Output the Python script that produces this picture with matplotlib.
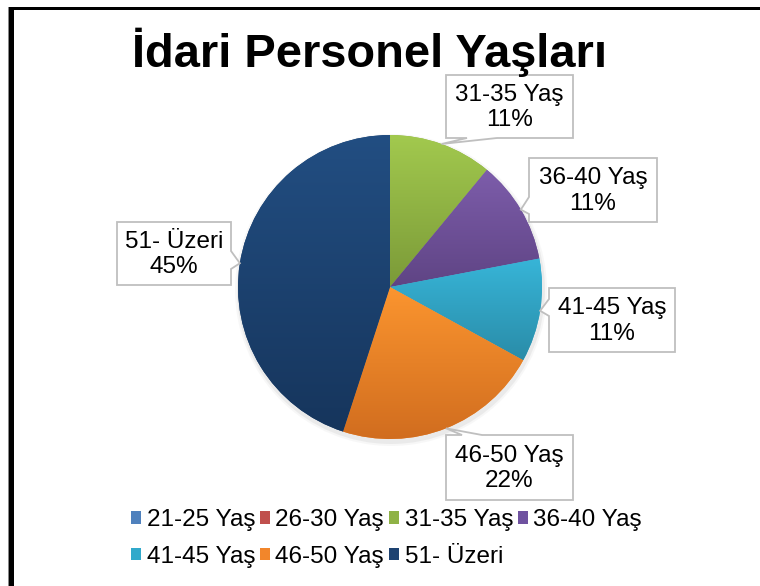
import numpy as np
import matplotlib
matplotlib.use('Agg')
import matplotlib.pyplot as plt
from matplotlib.patches import Patch, Polygon, Rectangle, Circle
from matplotlib.colors import LinearSegmentedColormap

plt.rcParams['font.family'] = ['Liberation Sans', 'DejaVu Sans']

title = 'İdari Personel Yaşları'
categories = ['21-25 Yaş', '26-30 Yaş', '31-35 Yaş', '36-40 Yaş',
              '41-45 Yaş', '46-50 Yaş', '51- Üzeri']
percents = [0, 0, 11, 11, 11, 22, 45]

# flat colours for legend, (light, dark) pairs for the wedge gradients
colors = ['#4f81bd', '#c0504d', '#8fb246', '#6f52a0', '#31a9cb', '#f2862b', '#1d4271']
grads = [('#5a8ccc', '#3f6ea8'), ('#cc5a56', '#a8403d'), ('#a2c94e', '#7b9a38'),
         ('#7d5dab', '#5f4484'), ('#37b5d8', '#2a8ca8'), ('#fb952f', '#d16d1f'),
         ('#224e82', '#16355c')]

W, H = 760, 586
def Y(y):
    return H - y

fig = plt.figure(figsize=(W / 100, H / 100), dpi=100)
ax = fig.add_axes([0, 0, 1, 1])

cx, cy, r = 390, Y(287), 152

# soft shadow
for rr, a in [(156, 0.06), (154, 0.10)]:
    ax.add_patch(Circle((cx + 1, cy - 3), rr, color='#808080', alpha=a, lw=0, zorder=1))

wedges, _ = ax.pie(percents, colors=colors, startangle=90, counterclock=False,
                   center=(cx, cy), radius=r, frame=True,
                   wedgeprops=dict(linewidth=0, zorder=2))

# vertical gradient inside each wedge
g = np.linspace(0, 1, 256)[:, None]
for w, (light, dark) in zip(wedges, grads):
    if w.theta2 - w.theta1 < 1e-6:
        continue
    bb = w.get_path().get_extents()
    cm = LinearSegmentedColormap.from_list('g', [dark, light])
    im = ax.imshow(g, cmap=cm, origin='lower', aspect='auto', interpolation='bilinear',
                   extent=[bb.x0, bb.x1, bb.y0, bb.y1], zorder=3)
    im.set_clip_path(w)

# callout boxes: (left, top, right, bottom) in image px, side of tail, tail base span
boxes = {
    2: ((446, 75, 573, 138), 'bottom', (467, 497)),
    3: ((529, 158, 657, 222), 'left', (197, 214)),
    4: ((549, 288, 675, 352), 'left', (299, 316)),
    5: ((446, 435, 573, 500), 'top', (462, 482)),
    6: ((117, 222, 231, 285), 'right', (251, 269)),
}

for i, (box, side, (b1, b2)) in boxes.items():
    w = wedges[i]
    th = np.deg2rad((w.theta1 + w.theta2) / 2)
    tx, ty = cx + r * np.cos(th), cy + r * np.sin(th)
    ty = H - ty  # to image coords
    x0, y0, x1, y1 = box
    if side == 'bottom':
        pts = [(x0, y0), (x1, y0), (x1, y1), (b2, y1), (tx, ty), (b1, y1), (x0, y1)]
    elif side == 'top':
        pts = [(x0, y0), (b1, y0), (tx, ty), (b2, y0), (x1, y0), (x1, y1), (x0, y1)]
    elif side == 'left':
        pts = [(x0, y0), (x1, y0), (x1, y1), (x0, y1), (x0, b2), (tx, ty), (x0, b1)]
    else:
        pts = [(x0, y0), (x1, y0), (x1, b1), (tx, ty), (x1, b2), (x1, y1), (x0, y1)]
    pts = [(px, Y(py)) for px, py in pts]
    ax.add_patch(Polygon(pts, closed=True, facecolor='white', edgecolor='#bfbfbf',
                         lw=1.3, zorder=5))
    ax.text((x0 + x1) / 2, Y((y0 + y1) / 2 + 1), f'{categories[i]}\n{percents[i]}%',
            ha='center', va='center', multialignment='center', fontsize=17.5,
            linespacing=1.2, zorder=6)

ax.text(369, Y(67), title, ha='center', va='baseline', fontsize=33.8,
        fontweight='bold', zorder=6)

# legend, reordered so column-major filling reads row by row
order = [0, 4, 1, 5, 2, 6, 3]
handles = [Patch(facecolor=colors[k], edgecolor='none') for k in order]
labels = [categories[k] for k in order]
ax.legend(handles, labels, ncol=4, loc='upper left',
          bbox_to_anchor=(131 / W, Y(509) / H), frameon=False, fontsize=17.5,
          handlelength=0.42, handleheight=0.42, handletextpad=0.22,
          columnspacing=0.2, borderaxespad=0, borderpad=0, labelspacing=0.6)

# outer frame: thick top and left edges only
ax.add_patch(Rectangle((9, 0), 5, Y(7), facecolor='black', lw=0, zorder=7))
ax.add_patch(Rectangle((8, 0), 1, Y(7), facecolor='#888888', lw=0, zorder=7))
ax.add_patch(Rectangle((9, Y(10)), W - 9, 3, facecolor='black', lw=0, zorder=7))

ax.set_xlim(0, W)
ax.set_ylim(0, H)
ax.set_aspect('equal')
ax.axis('off')

fig.savefig('out.png', dpi=100)
